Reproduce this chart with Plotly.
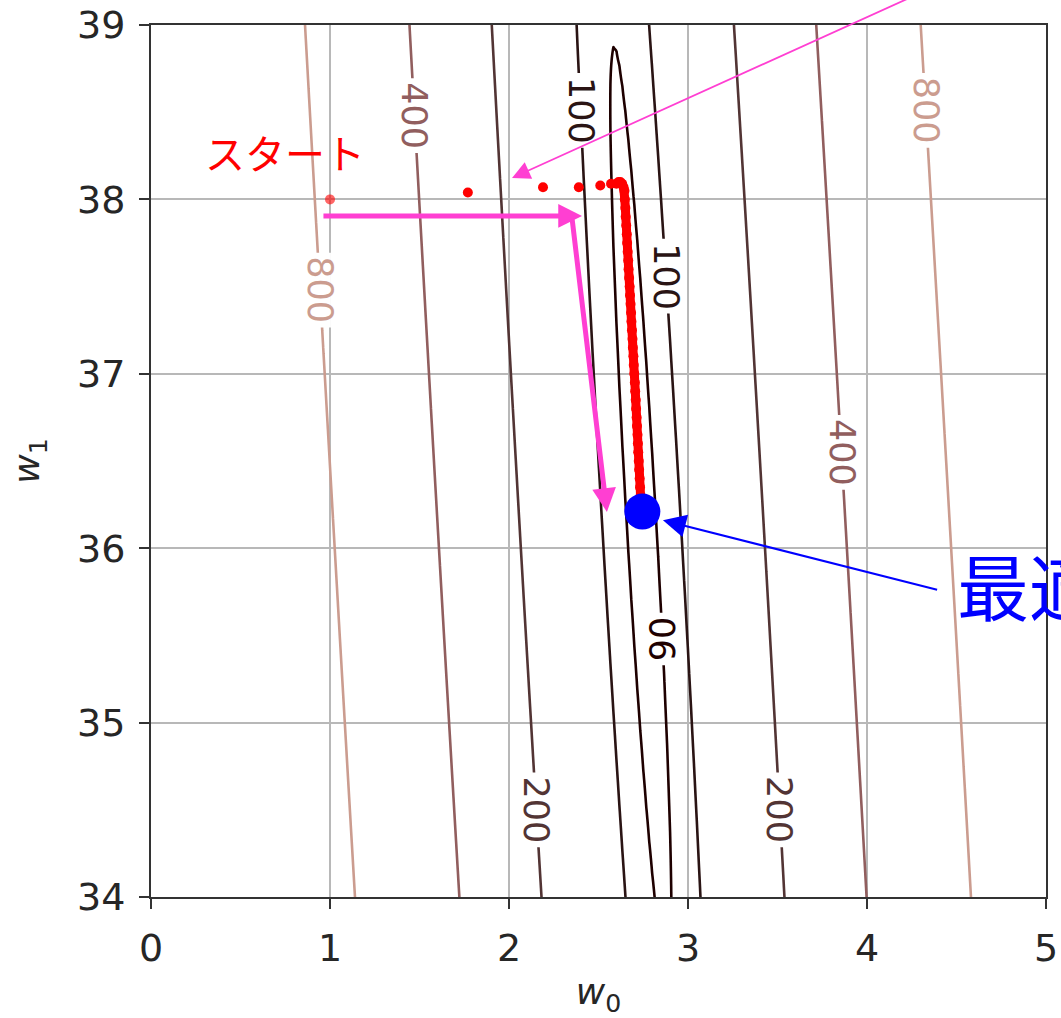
import numpy as np
import plotly.graph_objects as go

# ---- data ----
# Mean-squared-error surface (quadratic in w0, w1) estimated from contour positions
mse_min = 88.35         # value at the optimum
w0_opt = 2.737          # optimum w0
w1_opt = 36.2           # optimum w1
coef_w0w0 = 240.0       # curvature along w0
coef_w0w1 = 13.44       # cross term
coef_w1w1 = 0.983       # curvature along w1

contour_levels = [90, 100, 200, 400, 800]
level_colors = ["#1e0000", "#2a1414", "#523434", "#915e5e", "#cb9c8f"]

# inline contour labels: (level, side of the valley, w1 where the label sits)
label_levels = [800, 400, 100, 100, 90, 200, 200, 400, 800]
label_sides = [-1, -1, -1, 1, 1, -1, 1, 1, 1]
label_w1 = [37.48, 38.48, 38.51, 37.56, 35.48, 34.50, 34.50, 36.55, 38.51]

# gradient-descent path
start_w0 = [1.00]
start_w1 = [38.00]
early_w0 = [1.77, 2.19, 2.39, 2.51, 2.57, 2.60]
early_w1 = [38.04, 38.07, 38.07, 38.08, 38.09, 38.09]
path_w0 = [2.612, 2.622, 2.632, 2.640, 2.645, 2.647, 2.650, 2.652, 2.655, 2.658,
           2.660, 2.663, 2.666, 2.668, 2.671, 2.674, 2.676, 2.679, 2.682, 2.684,
           2.687, 2.690, 2.692, 2.695, 2.697, 2.700, 2.703, 2.705, 2.708, 2.710,
           2.713, 2.715, 2.718, 2.720, 2.722, 2.725, 2.727, 2.730, 2.732, 2.735]
path_w1 = [38.10, 38.10, 38.09, 38.07, 38.05, 38.00, 37.95, 37.90, 37.85, 37.80,
           37.75, 37.70, 37.65, 37.60, 37.55, 37.50, 37.45, 37.40, 37.35, 37.30,
           37.25, 37.20, 37.15, 37.10, 37.05, 37.00, 36.95, 36.90, 36.85, 36.80,
           36.75, 36.70, 36.65, 36.60, 36.55, 36.50, 36.45, 36.40, 36.35, 36.30]
opt_w0 = [2.745]
opt_w1 = [36.21]

x_ticks = [0, 1, 2, 3, 4, 5]
y_ticks = [34, 35, 36, 37, 38, 39]


def mse(w0, w1):
    d0 = w0 - w0_opt
    d1 = w1 - w1_opt
    return coef_w0w0 * d0**2 + 2 * coef_w0w1 * d0 * d1 + coef_w1w1 * d1**2 + mse_min


def w0_on_level(level, w1, side):
    d1 = w1 - w1_opt
    a = coef_w0w0
    b = 2 * coef_w0w1 * d1
    c = coef_w1w1 * d1**2 + mse_min - level
    disc = max(b * b - 4 * a * c, 0.0)
    return w0_opt + (-b + side * np.sqrt(disc)) / (2 * a)


# ---- surface grid ----
g0 = np.linspace(0, 5, 301)
g1 = np.linspace(34, 39, 301)
W0, W1 = np.meshgrid(g0, g1)
Z = mse(W0, W1)

fig = go.Figure()
for lev, col in zip(contour_levels, level_colors):
    fig.add_trace(go.Contour(
        x=g0, y=g1, z=Z,
        autocontour=False,
        contours=dict(start=lev, end=lev, size=1, coloring="none", showlabels=False),
        line=dict(color=col, width=2.6),
        showscale=False, hoverinfo="skip"))

fig.add_trace(go.Scatter(x=start_w0, y=start_w1, mode="markers",
                         marker=dict(color="rgba(255,0,0,0.6)", size=10),
                         hoverinfo="skip"))
fig.add_trace(go.Scatter(x=early_w0, y=early_w1, mode="markers",
                         marker=dict(color="#ff0000", size=10),
                         hoverinfo="skip"))
fig.add_trace(go.Scatter(x=path_w0, y=path_w1, mode="lines+markers",
                         line=dict(color="#ff0000", width=9),
                         marker=dict(color="#ff0000", size=10),
                         hoverinfo="skip"))
fig.add_trace(go.Scatter(x=opt_w0, y=opt_w1, mode="markers",
                         marker=dict(color="#0000ff", size=36),
                         hoverinfo="skip"))

# plot-area geometry (pixels) for converting label gap sizes
PLOT_W = 1061 - 151 - 15
PLOT_H = 1018 - 25 - 121
px_x = 5.0 / PLOT_W
px_y = 5.0 / PLOT_H

label_font = 35
shapes = []
annotations = []
color_of = dict(zip(contour_levels, level_colors))
for lev, side, w1 in zip(label_levels, label_sides, label_w1):
    w0 = w0_on_level(lev, w1, side)
    txt = str(lev)
    half_len = (len(txt) * 0.636 * label_font + 8) / 2 * px_y
    half_wid = 11 * px_x
    shapes.append(dict(type="rect", xref="x", yref="y", layer="above",
                       x0=w0 - half_wid, x1=w0 + half_wid,
                       y0=w1 - half_len, y1=w1 + half_len,
                       fillcolor="white", line=dict(width=0)))
    annotations.append(dict(x=w0, y=w1, xref="x", yref="y", text=txt, showarrow=False,
                            textangle=(-90 if lev == 90 else 90),
                            font=dict(size=label_font, color=color_of[lev],
                                      family="DejaVu Sans")))

pink = "#ff3fd2"
annotations += [
    dict(x=0.75, y=38.27, xref="x", yref="y", text="スタート", showarrow=False,
         font=dict(size=40, color="#ff0000", family="Noto Sans CJK JP")),
    dict(x=4.49, y=35.80, xref="x", yref="y", text="最適解", showarrow=False,
         xanchor="left", yanchor="middle",
         font=dict(size=72, color="#0000ff", family="Noto Sans CJK JP")),
    dict(x=2.86, y=36.16, xref="x", yref="y", ax=4.40, ay=35.76, axref="x", ayref="y",
         text="", showarrow=True, arrowhead=2, arrowsize=2.3, arrowwidth=2,
         arrowcolor="#0000ff"),
    dict(x=2.408, y=37.905, xref="x", yref="y", ax=0.955, ay=37.905, axref="x", ayref="y",
         text="", showarrow=True, arrowhead=2, arrowsize=0.95, arrowwidth=5,
         arrowcolor=pink),
    dict(x=2.547, y=36.208, xref="x", yref="y", ax=2.352, ay=37.893, axref="x", ayref="y",
         text="", showarrow=True, arrowhead=2, arrowsize=0.95, arrowwidth=5,
         arrowcolor=pink),
    dict(x=2.017, y=38.123, xref="x", yref="y", ax=4.458, ay=39.258, axref="x", ayref="y",
         text="", showarrow=True, arrowhead=2, arrowsize=2.0, arrowwidth=1.8,
         arrowcolor=pink),
]

axis_common = dict(
    showgrid=True, gridcolor="#b8b8b8", gridwidth=1.5,
    showline=True, mirror=True, linecolor="#333333", linewidth=2,
    ticks="outside", ticklen=10, tickwidth=2, tickcolor="#333333",
    ticklabelstandoff=6,
    tickfont=dict(size=38, family="DejaVu Sans", color="#262626"),
    zeroline=False, automargin=False,
)

fig.update_layout(
    width=1061, height=1018,
    margin=dict(l=151, r=15, t=25, b=121),
    paper_bgcolor="white", plot_bgcolor="white",
    showlegend=False,
    shapes=shapes,
    annotations=annotations,
    xaxis=dict(range=[0, 5], tickvals=x_ticks, ticktext=[str(v) for v in x_ticks],
               title=dict(text="<i>w</i><sub>0</sub>", standoff=14,
                          font=dict(size=36, family="DejaVu Sans", color="#262626")),
               **axis_common),
    yaxis=dict(range=[34, 39], tickvals=y_ticks, ticktext=[str(v) for v in y_ticks],
               title=dict(text="<i>w</i><sub>1</sub>", standoff=26,
                          font=dict(size=36, family="DejaVu Sans", color="#262626")),
               **axis_common),
)

fig.write_html("out.html")
